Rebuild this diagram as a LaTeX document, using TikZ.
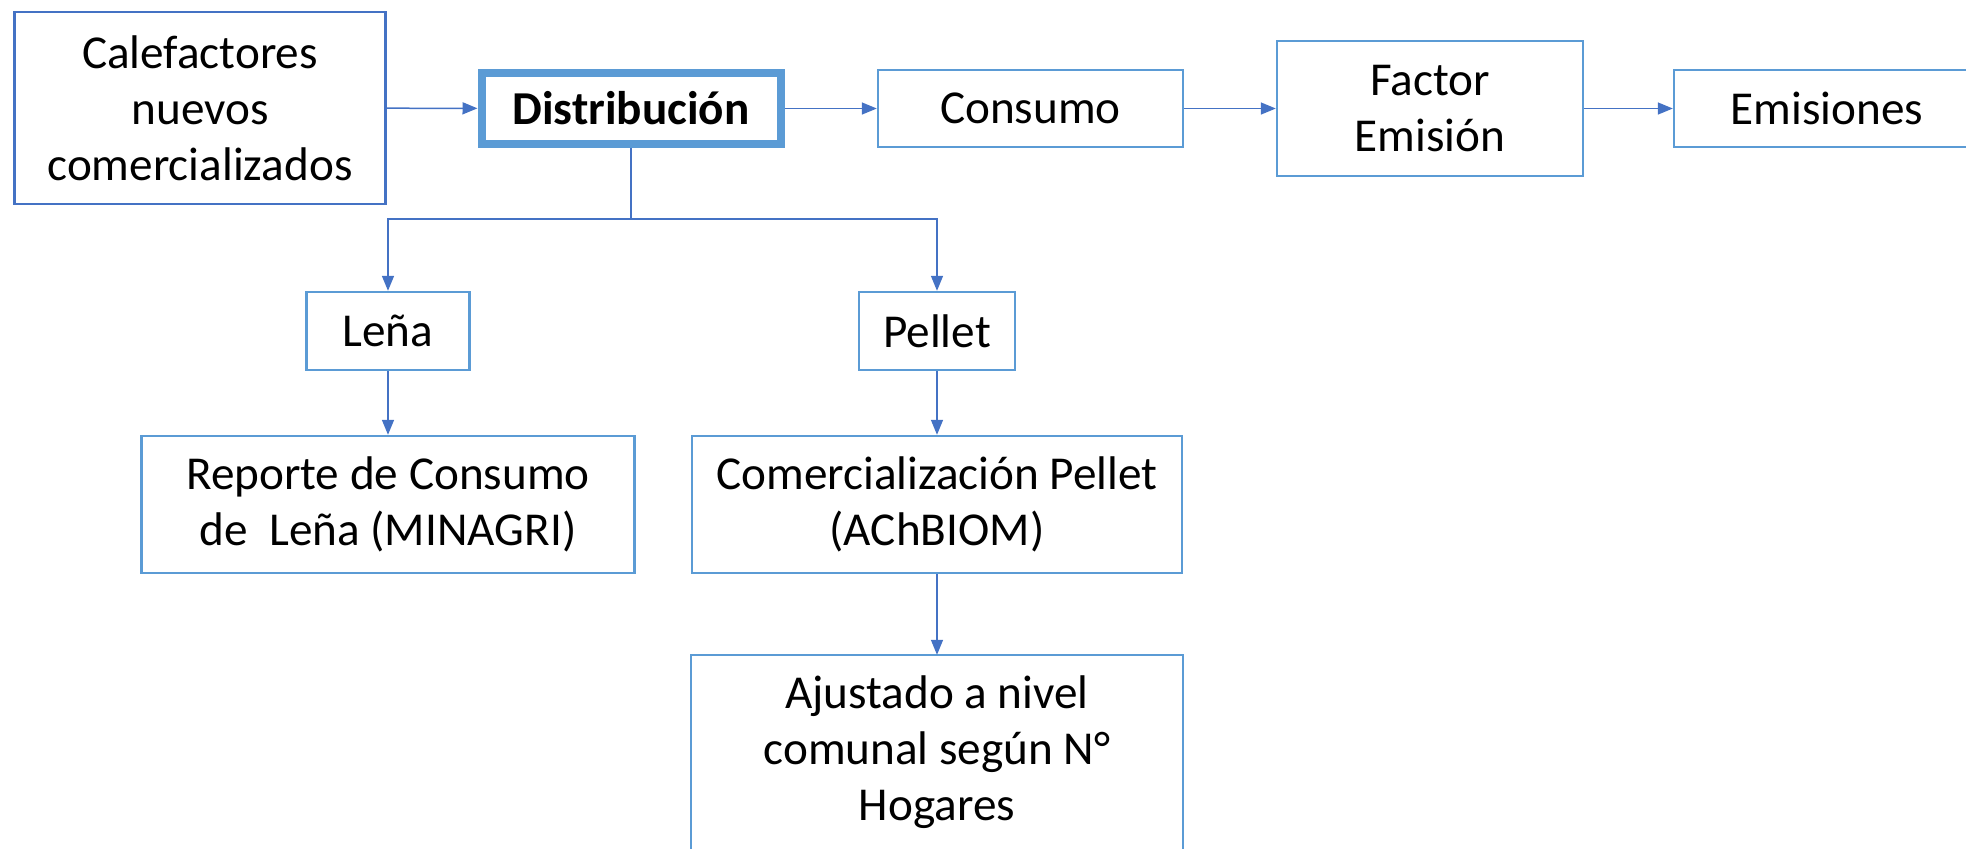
\documentclass[tikz,border=0pt]{standalone}
\usepackage{fontspec}
\setmainfont{Carlito}
\usetikzlibrary{arrows.meta}
\definecolor{boxblue}{HTML}{5B9BD5}
\definecolor{lineblue}{HTML}{4472C4}

\begin{document}
\begin{tikzpicture}
[x=0.5pt,y=-0.5pt,inner sep=0pt,font=\fontsize{23.6}{28}\selectfont,
box/.style={rectangle,draw=boxblue,line width=1.2pt,align=center},
flow/.style={draw=lineblue,line width=0.75pt,-{Triangle[length=7.5pt,width=6pt]}}]
\useasboundingbox (0,0) rectangle (1966,848);
\node (calef) at (200,108) [box,draw=lineblue,minimum width=185.5pt,minimum height=96pt] {Calefactores\\nuevos\\comercializados};
\node (dist) at (631,108.5) [box,line width=4pt,minimum width=149.5pt,minimum height=35.5pt] {\bfseries Distribución};
\node (consumo) at (1030.5,108.5) [box,minimum width=152.5pt,minimum height=38.5pt] {Consumo};
\node (factor) at (1430,108.5) [box,minimum width=153pt,minimum height=67.5pt] {Factor\\Emisión};
\node (emis) at (1827,108.5) [box,minimum width=153pt,minimum height=38.5pt] {Emisiones};
\node (lena) at (388,331) [box,minimum width=81.5pt,minimum height=39pt] {Leña};
\node (reporte) at (388,504.5) [box,minimum width=246.5pt,minimum height=68.5pt] {Reporte de Consumo\\de\ \ Leña (MINAGRI)};
\node (pellet) at (937,331) [box,minimum width=78pt,minimum height=39pt] {Pellet};
\node (comerc) at (937,504.5) [box,minimum width=245pt,minimum height=68.5pt] {Comercialización Pellet\\(AChBIOM)};
\node (ajust) at (937,752.5) [box,draw=none,minimum width=245pt,minimum height=96.5pt] {Ajustado a nivel\\comunal según N°\\Hogares};
% the last box runs off the bottom of the page
\draw[boxblue,line width=1.2pt] ([yshift=-20pt]ajust.south west) |- (ajust.north east) -- ([yshift=-20pt]ajust.south east);
\coordinate (split) at (631,219);
\draw[flow] (calef) -- (dist);
\draw[flow] (dist) -- (consumo);
\draw[flow] (consumo) -- (factor);
\draw[flow] (factor) -- (emis);
\draw[draw=lineblue,line width=0.75pt] (dist) -- (split);
\draw[flow] (split) -| (lena);
\draw[flow] (split) -| (pellet);
\draw[flow] (lena) -- (reporte);
\draw[flow] (pellet) -- (comerc);
\draw[flow] (comerc) -- (ajust);
\end{tikzpicture}
\end{document}
